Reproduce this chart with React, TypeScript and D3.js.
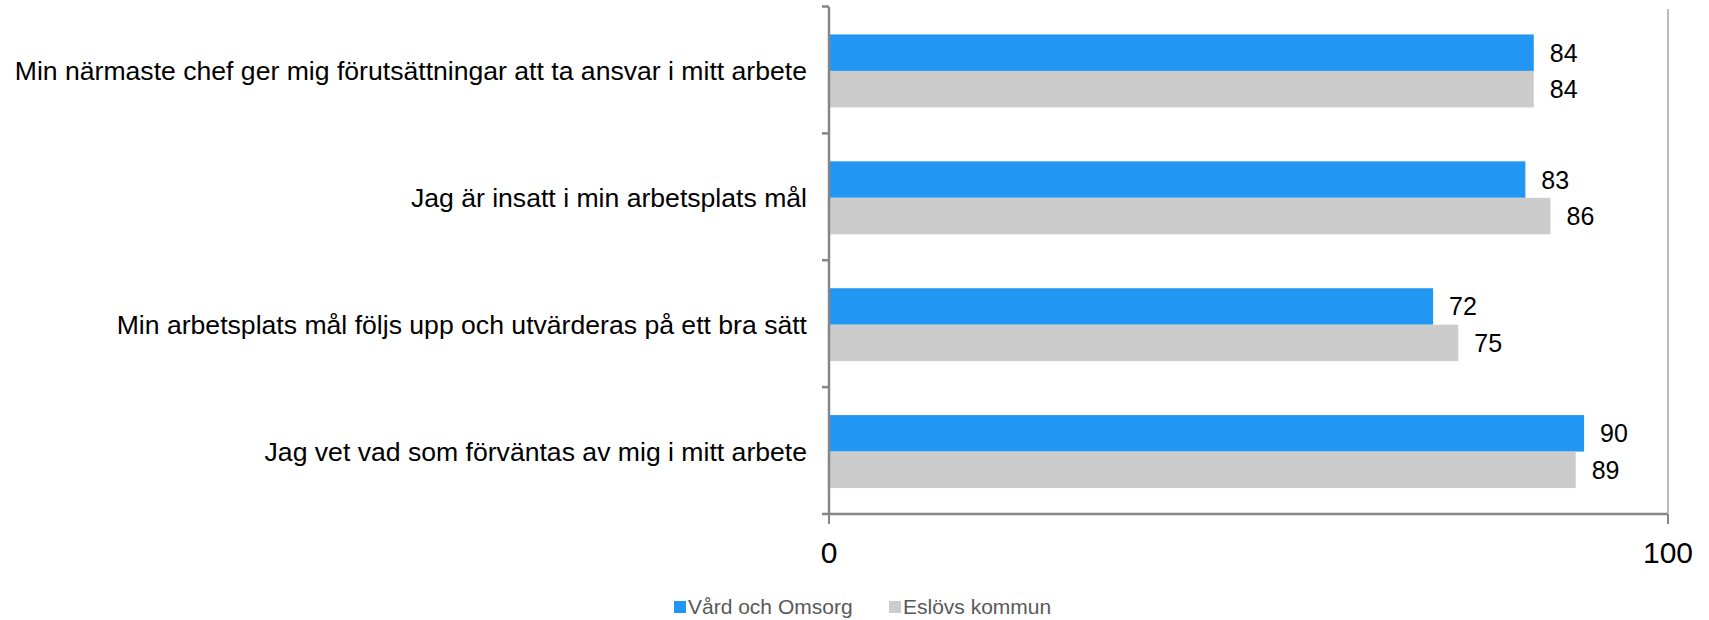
import React from "react";
import * as d3 from "d3";

const categories = [
  "Min närmaste chef ger mig förutsättningar att ta ansvar i mitt arbete",
  "Jag är insatt i min arbetsplats mål",
  "Min arbetsplats mål följs upp och utvärderas på ett bra sätt",
  "Jag vet vad som förväntas av mig i mitt arbete",
];
const seriesNames = ["Vård och Omsorg", "Eslövs kommun"];
const vardOchOmsorg = [84, 83, 72, 90];
const eslovsKommun = [84, 86, 75, 89];
const xTicks = [0, 100];
const colors = ["#2196F3", "#CCCCCC"];

const W = 1709;
const H = 620;
const FONT = "'Liberation Sans', Arial, Helvetica, sans-serif";

export default function App() {
  const x = d3.scaleLinear().domain([0, 100]).range([829, 1668]);
  const y = d3.scaleBand<string>().domain(categories).range([7.5, 515]).paddingInner(0.425).paddingOuter(0.2125);
  const sub = d3.scaleBand<number>().domain([0, 1]).range([0, y.bandwidth()]);
  const series = [vardOchOmsorg, eslovsKommun];
  const bandEdges = d3.range(categories.length + 1).map((i) => 5.5 + (i * (513 - 5.5)) / categories.length);

  return (
    <svg width={W} height={H} style={{ position: "absolute", left: 0, top: 0 }} fontFamily={FONT}>
      <rect width={W} height={H} fill="#fff" />
      {/* gridline at 100 */}
      <line x1={x(100)} x2={x(100)} y1={9} y2={513} stroke="#A6A6A6" strokeWidth={1.5} />
      {/* bars */}
      {categories.map((c, i) =>
        series.map((s, k) => (
          <rect
            key={c + k}
            x={x(0) + 1}
            y={(y(c) as number) + (sub(k) as number)}
            width={x(s[i]) - x(0) - 1}
            height={sub.bandwidth()}
            fill={colors[k]}
          />
        ))
      )}
      {/* value labels */}
      {categories.map((c, i) =>
        series.map((s, k) => (
          <text
            key={"v" + c + k}
            x={x(s[i]) + 16}
            y={(y(c) as number) + (sub(k) as number) + sub.bandwidth() / 2 + 9}
            fontSize={25}
            fill="#000"
          >
            {s[i]}
          </text>
        ))
      )}
      {/* left axis */}
      <line x1={x(0)} x2={x(0)} y1={7} y2={514} stroke="#868686" strokeWidth={2.5} />
      {bandEdges.map((e, i) => (
        <line key={"t" + i} x1={x(0) - 7} x2={x(0)} y1={e + 1} y2={e + 1} stroke="#868686" strokeWidth={2.5} />
      ))}
      {/* bottom axis */}
      <line x1={x(0)} x2={x(100)} y1={514} y2={514} stroke="#868686" strokeWidth={2.5} />
      {xTicks.map((t) => (
        <g key={"xt" + t}>
          <line x1={x(t)} x2={x(t)} y1={514} y2={524} stroke="#868686" strokeWidth={2} />
          <text x={x(t)} y={563} textAnchor="middle" fontSize={30} fill="#000">
            {t}
          </text>
        </g>
      ))}
      {/* category labels */}
      {categories.map((c) => (
        <text
          key={"c" + c}
          x={807}
          y={(y(c) as number) + y.bandwidth() / 2 + 9}
          textAnchor="end"
          fontSize={26.6}
          fill="#000"
        >
          {c}
        </text>
      ))}
      {/* legend */}
      {seriesNames.map((n, k) => {
        const lx = [674, 889][k];
        return (
          <g key={"l" + n}>
            <rect x={lx} y={601} width={12} height={12} fill={colors[k]} />
            <text x={lx + 14} y={614} fontSize={21} fill="#595959">
              {n}
            </text>
          </g>
        );
      })}
    </svg>
  );
}
